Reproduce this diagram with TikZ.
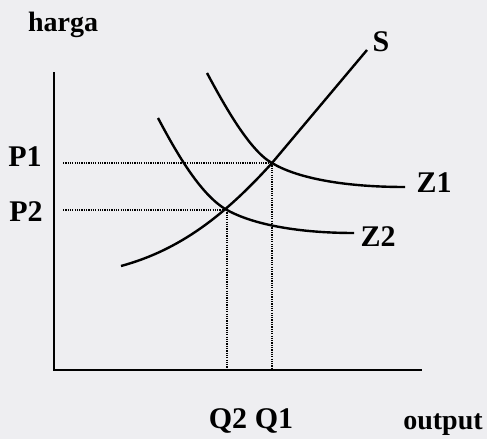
\documentclass[tikz,border=0pt]{standalone}
\usepackage{fontspec}
\setmainfont{Liberation Serif}
\definecolor{bgc}{RGB}{238,238,241}
\begin{document}
\begin{tikzpicture}[x=1pt,y=-1pt,
  axisline/.style={line width=2.6pt,line cap=rect},
  curve/.style={line width=2.4pt},
  guide/.style={line width=1.7pt,dash pattern=on 1.2pt off 1.1pt},
  lbl/.style={font=\fontsize{30}{31}\selectfont\bfseries,inner sep=0pt},
  ttl/.style={font=\fontsize{28}{29}\selectfont\bfseries,inner sep=0pt}]
\fill[bgc] (0,0) rectangle (487,439);
\useasboundingbox (0,0) rectangle (487,439);
% axes
\coordinate (top) at (54,73);
\coordinate (O) at (54,370);
\coordinate (xend) at (421,370);
\draw[axisline] (top) -- (O) -- (xend);
% equilibrium points
\coordinate (E1) at (272,163);
\coordinate (E2) at (227,210);
\coordinate (p1a) at (63,163);
\coordinate (p2a) at (63,210);
\coordinate (q1a) at (272,369);
\coordinate (q2a) at (227,369);
% guides
\draw[guide] (p1a) -- (E1);
\draw[guide] (p2a) -- (E2);
\draw[guide] (E1) -- (q1a);
\draw[guide] (E2) -- (q2a);
% supply S
\coordinate (Sa) at (121,266);
\coordinate (Sb) at (367,50);
\draw[curve] (Sa) .. controls (180,250) and (225,215) .. (E1) -- (Sb);
% demand Z1
\coordinate (Z1a) at (207,73);
\coordinate (Z1b) at (405,187);
\draw[curve] (Z1a) .. controls (220,97) and (248,150) .. (E1)
  .. controls (295,177) and (340,187) .. (Z1b);
% demand Z2
\coordinate (Z2a) at (158,118);
\coordinate (Z2b) at (354,233);
\draw[curve] (Z2a) .. controls (175,150) and (200,195) .. (E2)
  .. controls (254,225) and (300,233) .. (Z2b);
% labels
\node[ttl] (harga) at (63,25) {harga};
\node[ttl] (output) at (443,425) {output};
\node[lbl] (P1) at (25,157) {P1};
\node[lbl] (P2) at (26,212) {P2};
\node[lbl] (Q2) at (228,421) {Q2};
\node[lbl] (Q1) at (274,421) {Q1};
\node[lbl] (S) at (381,42) {S};
\node[lbl] (Z1) at (434,183) {Z1};
\node[lbl] (Z2) at (378,237) {Z2};
\end{tikzpicture}
\end{document}
